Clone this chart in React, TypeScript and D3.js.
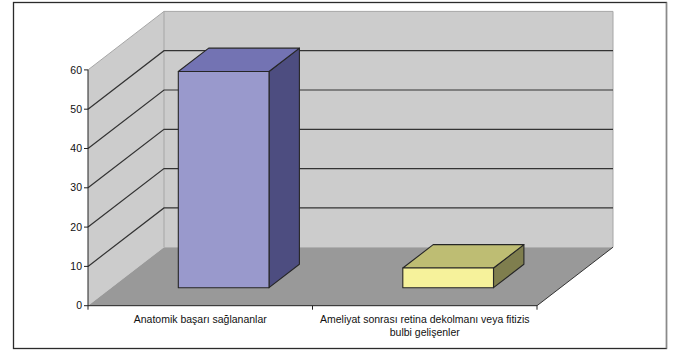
import React from "react";
import * as d3 from "d3";

// Chart data
const categories = [
  "Anatomik başarı sağlananlar",
  "Ameliyat sonrası retina dekolmanı veya fitizis bulbi gelişenler",
];
const categoryLines = [
  ["Anatomik başarı sağlananlar"],
  ["Ameliyat sonrası retina dekolmanı veya fitizis", "bulbi gelişenler"],
];
const values = [55, 5];
const yTicks = [0, 10, 20, 30, 40, 50, 60];

const W = 673;
const H = 350;

// Front plane of the oblique 3D frame
const X0 = 88;
const X1 = 537;
const Y0 = 305.7;
const Y60 = 69.9;
// Depth offset of the back plane
const DX = 76;
const DY = 58.5;
// Depth range that the bars occupy (0 = front, 1 = back)
const D_FRONT = 0.308;
const D_BACK = 0.708;
const BAR_RATIO = 0.404;

const barStyles = [
  { front: "#9999cc", top: "#7373b3", side: "#4d4d80" },
  { front: "#f6f29b", top: "#bebd73", side: "#7f7e4e" },
];

const font = "Liberation Sans, Arial, Helvetica, sans-serif";

export default function App() {
  const y = d3.scaleLinear().domain([0, 60]).range([Y0, Y60]);
  const x = d3.scaleBand<string>().domain(categories).range([X0, X1]).padding(0);

  const p = (px: number, val: number, depth: number): [number, number] => [
    px + depth * DX,
    y(val) - depth * DY,
  ];
  const poly = (pts: [number, number][]) =>
    pts.map((q) => q.join(",")).join(" ");

  const yMax = 60;
  const sideWall = poly([p(X0, 0, 0), p(X0, yMax, 0), p(X0, yMax, 1), p(X0, 0, 1)]);
  const backWall = poly([p(X0, 0, 1), p(X0, yMax, 1), p(X1, yMax, 1), p(X1, 0, 1)]);
  const floor = poly([p(X0, 0, 0), p(X0, 0, 1), p(X1, 0, 1), p(X1, 0, 0)]);

  const grid = yTicks.filter((v) => v > 0 && v < yMax);

  return (
    <svg
      width={W}
      height={H}
      style={{ position: "absolute", left: 0, top: 0, background: "#fff" }}
    >
      <rect x={13.5} y={2.5} width={653} height={346} fill="#fff" stroke="#2b2b2b" strokeWidth={1.3} />
      <line x1={666.5} y1={2.5} x2={666.5} y2={348.5} stroke="#8a8a8a" strokeWidth={1.3} />

      <polygon points={sideWall} fill="#cccccc" />
      <polygon points={backWall} fill="#cccccc" />
      <polygon points={floor} fill="#999999" />

      {/* frame edges at the top of the walls */}
      <polyline
        points={poly([p(X0, yMax, 0), p(X0, yMax, 1), p(X1, yMax, 1), p(X1, 0, 1)])}
        fill="none"
        stroke="#a6a6a6"
        strokeWidth={1}
      />
      <line
        x1={p(X0, yMax, 1)[0]}
        y1={p(X0, yMax, 1)[1]}
        x2={p(X0, 0, 1)[0]}
        y2={p(X0, 0, 1)[1]}
        stroke="#a6a6a6"
        strokeWidth={1}
      />

      {/* gridlines on side and back walls */}
      {grid.map((v) => (
        <polyline
          key={v}
          points={poly([p(X0, v, 0), p(X0, v, 1), p(X1, v, 1)])}
          fill="none"
          stroke="#333333"
          strokeWidth={1.2}
        />
      ))}

      {/* floor front-right edge */}
      <line
        x1={p(X1, 0, 0)[0]}
        y1={p(X1, 0, 0)[1]}
        x2={p(X1, 0, 1)[0]}
        y2={p(X1, 0, 1)[1]}
        stroke="#333333"
        strokeWidth={1}
      />

      {/* bars */}
      {categories.map((c, i) => {
        const cx = (x(c) as number) + x.bandwidth() / 2;
        const hw = (x.bandwidth() * BAR_RATIO) / 2;
        const l = cx - hw;
        const r = cx + hw;
        const v = values[i];
        const s = barStyles[i];
        const front = poly([p(l, 0, D_FRONT), p(r, 0, D_FRONT), p(r, v, D_FRONT), p(l, v, D_FRONT)]);
        const top = poly([p(l, v, D_FRONT), p(r, v, D_FRONT), p(r, v, D_BACK), p(l, v, D_BACK)]);
        const side = poly([p(r, 0, D_FRONT), p(r, 0, D_BACK), p(r, v, D_BACK), p(r, v, D_FRONT)]);
        return (
          <g key={c} stroke="#262626" strokeWidth={1.1} strokeLinejoin="round">
            <polygon points={side} fill={s.side} />
            <polygon points={top} fill={s.top} />
            <polygon points={front} fill={s.front} />
          </g>
        );
      })}

      {/* value axis */}
      <line x1={X0} y1={Y0} x2={X0} y2={Y60} stroke="#222" strokeWidth={1} />
      {yTicks.map((v) => (
        <g key={v}>
          <line x1={X0 - 4} x2={X0} y1={y(v)} y2={y(v)} stroke="#222" strokeWidth={1} />
          <text
            x={X0 - 6}
            y={y(v)}
            dy="0.35em"
            textAnchor="end"
            fontFamily={font}
            fontSize={10.5}
            fill="#111"
          >
            {v}
          </text>
        </g>
      ))}

      {/* category axis */}
      <line x1={X0} y1={Y0} x2={X1} y2={Y0} stroke="#222" strokeWidth={1} />
      {[X0, ...categories.slice(1).map((c) => x(c) as number), X1].map((tx, i) => (
        <line key={i} x1={tx} x2={tx} y1={Y0} y2={Y0 + 4} stroke="#222" strokeWidth={1} />
      ))}
      {categories.map((c, i) => (
        <text
          key={c}
          x={(x(c) as number) + x.bandwidth() / 2}
          y={323}
          textAnchor="middle"
          fontFamily={font}
          fontSize={10.5}
          fill="#111"
        >
          {categoryLines[i].map((line, j) => (
            <tspan key={j} x={(x(c) as number) + x.bandwidth() / 2} dy={j === 0 ? 0 : 13}>
              {line}
            </tspan>
          ))}
        </text>
      ))}
    </svg>
  );
}
